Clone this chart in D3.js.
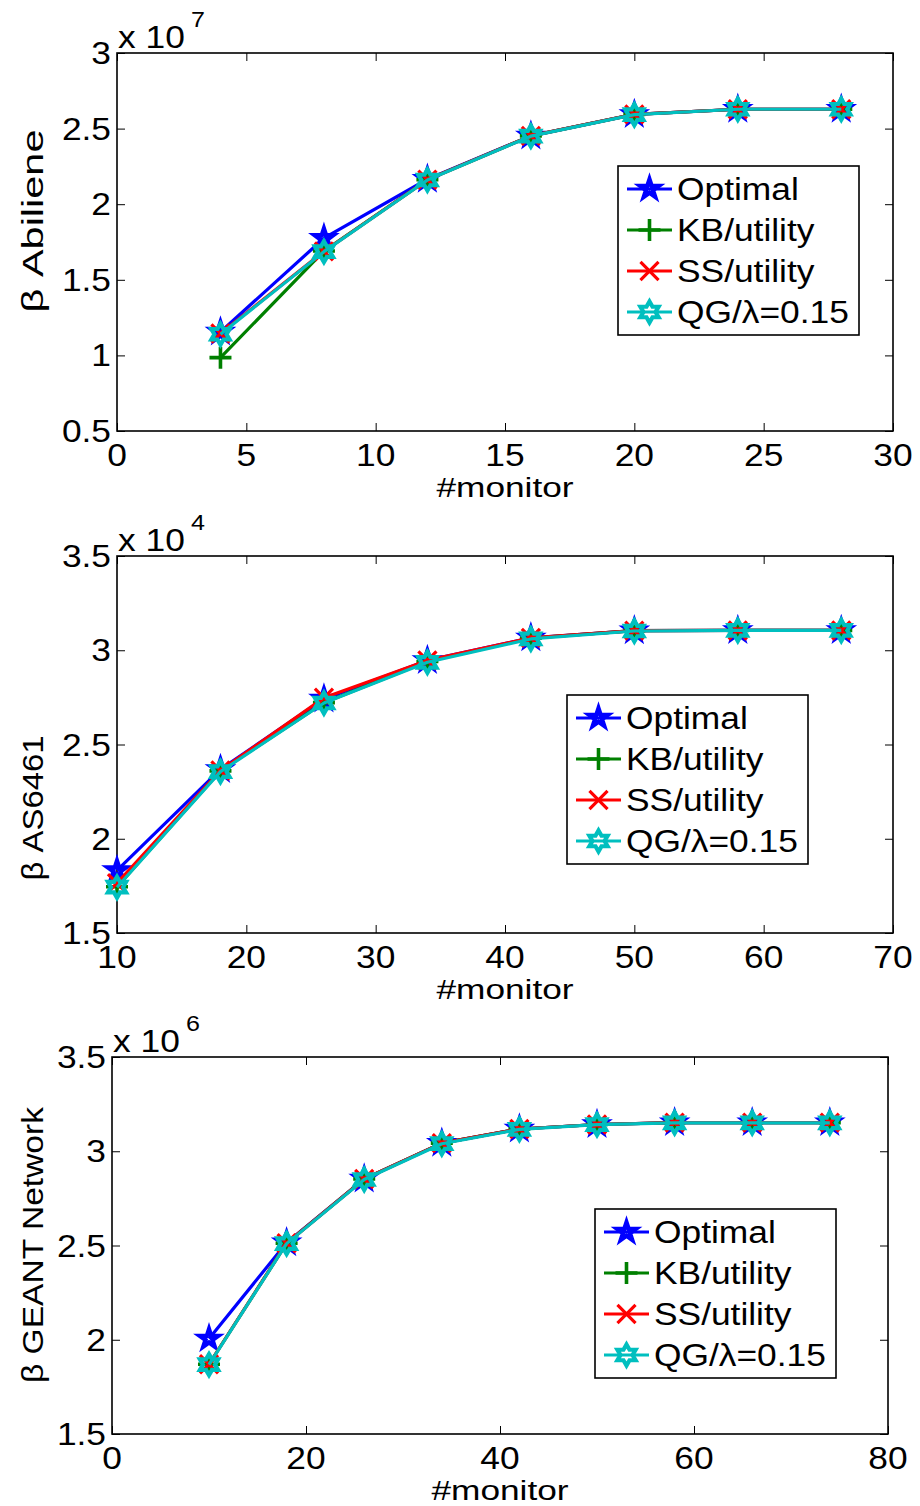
<!DOCTYPE html>
<html>
<head>
<meta charset="utf-8">
<script src="https://cdn.jsdelivr.net/npm/d3@7"></script>
<style>
  body { margin: 0; background: #fff; }
  svg { display: block; }
</style>
</head>
<body>
<svg id="chart" width="920" height="1506"></svg>
<script>
// ---- series definitions ----
const seriesNames  = ["Optimal", "KB/utility", "SS/utility", "QG/\u03bb=0.15"];
const seriesColors = ["#0000ff", "#008000", "#ff0000", "#00bfbf"];
const seriesMarks  = ["pentagram", "plus", "times", "hexagram"];

// ---- Abilene ----
const abileneMonitors = [4, 8, 12, 16, 20, 24, 28];
const abileneOptimal  = [1.155, 1.775, 2.165, 2.452, 2.594, 2.628, 2.628];
const abileneKB       = [0.985, 1.690, 2.162, 2.452, 2.594, 2.628, 2.628];
const abileneSS       = [1.145, 1.688, 2.162, 2.452, 2.594, 2.628, 2.628];
const abileneQG       = [1.140, 1.686, 2.160, 2.450, 2.592, 2.628, 2.628];
const abileneXTicks   = [0, 5, 10, 15, 20, 25, 30];
const abileneYTicks   = [0.5, 1, 1.5, 2, 2.5, 3];

// ---- AS6461 ----
const asMonitors = [10, 18, 26, 34, 42, 50, 58, 66];
const asOptimal  = [1.832, 2.368, 2.742, 2.946, 3.066, 3.104, 3.105, 3.105];
const asKB       = [1.745, 2.360, 2.722, 2.940, 3.064, 3.104, 3.105, 3.105];
const asSS       = [1.765, 2.362, 2.748, 2.946, 3.066, 3.104, 3.105, 3.105];
const asQG       = [1.743, 2.356, 2.720, 2.936, 3.060, 3.102, 3.105, 3.105];
const asXTicks   = [10, 20, 30, 40, 50, 60, 70];
const asYTicks   = [1.5, 2, 2.5, 3, 3.5];

// ---- GEANT ----
const geantMonitors = [10, 18, 26, 34, 42, 50, 58, 66, 74];
const geantOptimal  = [2.005, 2.515, 2.853, 3.043, 3.118, 3.142, 3.152, 3.152, 3.152];
const geantKB       = [1.870, 2.512, 2.853, 3.043, 3.118, 3.142, 3.152, 3.152, 3.152];
const geantSS       = [1.870, 2.512, 2.853, 3.043, 3.118, 3.142, 3.152, 3.152, 3.152];
const geantQG       = [1.868, 2.510, 2.850, 3.040, 3.116, 3.141, 3.151, 3.151, 3.151];
const geantXTicks   = [0, 20, 40, 60, 80];
const geantYTicks   = [1.5, 2, 2.5, 3, 3.5];

const FONT = "'Liberation Sans', Arial, Helvetica, sans-serif";
const SX = 1.14;      // horizontal stretch of the figure's lettering
const FS = 31;        // base font size

// star-polygon symbol factory: `size` is the squared outer radius
function starSymbol(points, innerRatio) {
  return {
    draw(ctx, size) {
      const R = Math.sqrt(size), r = R * innerRatio;
      for (let i = 0; i < points * 2; i++) {
        const a = -Math.PI / 2 + i * Math.PI / points;
        const rr = i % 2 === 0 ? R : r;
        const px = rr * Math.cos(a), py = rr * Math.sin(a);
        i === 0 ? ctx.moveTo(px, py) : ctx.lineTo(px, py);
      }
      ctx.closePath();
    }
  };
}
const symbolPentagram = starSymbol(5, 0.382);
const symbolHexagram  = starSymbol(6, 1 / Math.sqrt(3));

const markTypes = {
  pentagram: { type: symbolPentagram, size: 92,  width: 4.4 },
  plus:      { type: d3.symbolPlus,   size: 160, width: 3.6 },
  times:     { type: d3.symbolTimes,  size: 215, width: 3.2 },
  hexagram:  { type: symbolHexagram,  size: 110, width: 4.2 }
};

const svg = d3.select("#chart");

function stretchedText(parent, x, y, str, opts = {}) {
  const t = parent.append("text")
    .attr("transform", `translate(${x},${y})${opts.rotate ? ` rotate(${opts.rotate})` : ""} scale(${opts.sx ?? SX},1)`)
    .attr("font-family", FONT)
    .attr("font-size", opts.size ?? FS)
    .attr("text-anchor", opts.anchor ?? "start")
    .attr("fill", "#000")
    .text(str);
  if (opts.length) t.attr("textLength", opts.length).attr("lengthAdjust", "spacingAndGlyphs");
  return t;
}

const panels = [
  {
    left: 117, top: 53, width: 776, height: 378,
    xs: abileneMonitors, ys: [abileneOptimal, abileneKB, abileneSS, abileneQG],
    xDomain: [0, 30], xTicks: abileneXTicks, yDomain: [0.5, 3], yTicks: abileneYTicks,
    exponent: "7", ylabel: "\u03b2 Abiliene", ylabelCenter: 221, ylabelLength: 183,
    legend: { x: 501, y: 113 }
  },
  {
    left: 117, top: 556, width: 776, height: 377,
    xs: asMonitors, ys: [asOptimal, asKB, asSS, asQG],
    xDomain: [10, 70], xTicks: asXTicks, yDomain: [1.5, 3.5], yTicks: asYTicks,
    exponent: "4", ylabel: "\u03b2 AS6461", ylabelCenter: 808, ylabelLength: 145,
    legend: { x: 450, y: 139 }
  },
  {
    left: 112, top: 1057, width: 776, height: 377,
    xs: geantMonitors, ys: [geantOptimal, geantKB, geantSS, geantQG],
    xDomain: [0, 80], xTicks: geantXTicks, yDomain: [1.5, 3.5], yTicks: geantYTicks,
    exponent: "6", ylabel: "\u03b2 GEANT Network", ylabelCenter: 1245, ylabelLength: 276,
    legend: { x: 483, y: 152 }
  }
];

const yFmt = d3.format("~g");
const TICK = 8;

panels.forEach(p => {
  const g = svg.append("g").attr("transform", `translate(${p.left},${p.top})`);
  const x = d3.scaleLinear().domain(p.xDomain).range([0, p.width]);
  const y = d3.scaleLinear().domain(p.yDomain).range([p.height, 0]);

  const styleAxis = sel => {
    sel.select(".domain").remove();
    sel.selectAll(".tick line").attr("stroke", "#000").attr("stroke-width", 1);
  };

  // inward tick marks on all four sides
  g.append("g").attr("transform", `translate(0,${p.height})`)
    .call(d3.axisBottom(x).tickValues(p.xTicks).tickSizeInner(-TICK).tickSizeOuter(0).tickFormat(""))
    .call(styleAxis);
  g.append("g")
    .call(d3.axisTop(x).tickValues(p.xTicks).tickSizeInner(-TICK).tickSizeOuter(0).tickFormat(""))
    .call(styleAxis);
  g.append("g")
    .call(d3.axisLeft(y).tickValues(p.yTicks).tickSizeInner(-TICK).tickSizeOuter(0).tickFormat(""))
    .call(styleAxis);
  g.append("g").attr("transform", `translate(${p.width},0)`)
    .call(d3.axisRight(y).tickValues(p.yTicks).tickSizeInner(-TICK).tickSizeOuter(0).tickFormat(""))
    .call(styleAxis);

  // tick labels
  p.xTicks.forEach(v => stretchedText(g, x(v), p.height + 35, String(v), { anchor: "middle" }));
  p.yTicks.forEach(v => stretchedText(g, -6, y(v) + 11, yFmt(v), { anchor: "end" }));

  // axes box
  g.append("rect").attr("width", p.width).attr("height", p.height)
    .attr("fill", "none").attr("stroke", "#000").attr("stroke-width", 1.6);

  // axis titles
  stretchedText(g, p.width / 2, p.height + 66, "#monitor", { anchor: "middle", size: 28, sx: 1.26 });
  stretchedText(svg, 43, p.ylabelCenter, p.ylabel, { anchor: "middle", rotate: -90, sx: 1, size: 30, length: p.ylabelLength });

  // exponent multiplier
  stretchedText(g, 1, -5, "x 10", {});
  stretchedText(g, 74, -26, p.exponent, { size: 22 });

  // series: line then markers, in drawing order
  const line = d3.line().x((d, i) => x(p.xs[i])).y(d => y(d));
  p.ys.forEach((vals, s) => {
    g.append("path").datum(vals)
      .attr("d", line)
      .attr("fill", "none")
      .attr("stroke", seriesColors[s])
      .attr("stroke-width", 3.2)
      .attr("stroke-linejoin", "round");
    const mk = markTypes[seriesMarks[s]];
    const sym = d3.symbol().type(mk.type).size(mk.size);
    g.selectAll(null).data(vals).join("path")
      .attr("transform", (d, i) => `translate(${x(p.xs[i])},${y(d)})`)
      .attr("d", sym)
      .attr("fill", "none")
      .attr("stroke", seriesColors[s])
      .attr("stroke-width", mk.width)
      .attr("stroke-linejoin", "miter")
      .attr("stroke-miterlimit", 10);
  });

  // legend
  const lg = g.append("g").attr("transform", `translate(${p.legend.x},${p.legend.y})`);
  lg.append("rect").attr("width", 241).attr("height", 169)
    .attr("fill", "#fff").attr("stroke", "#000").attr("stroke-width", 1.6);
  seriesNames.forEach((name, s) => {
    const cy = 23 + s * 41;
    lg.append("line").attr("x1", 9).attr("x2", 54).attr("y1", cy).attr("y2", cy)
      .attr("stroke", seriesColors[s]).attr("stroke-width", 3.2);
    const mk = markTypes[seriesMarks[s]];
    lg.append("path")
      .attr("transform", `translate(31.5,${cy})`)
      .attr("d", d3.symbol().type(mk.type).size(mk.size)())
      .attr("fill", "none").attr("stroke", seriesColors[s])
      .attr("stroke-width", mk.width).attr("stroke-miterlimit", 10);
    stretchedText(lg, 59, cy + 11, name, {});
  });
});
</script>
</body>
</html>
